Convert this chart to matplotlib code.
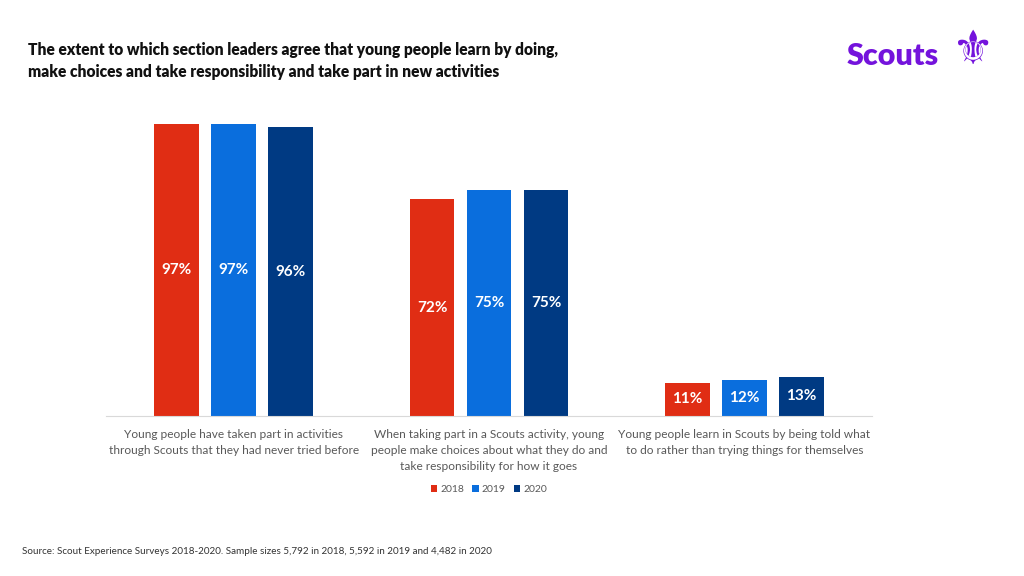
import numpy as np
import matplotlib.pyplot as plt

categories = [
    "Young people have taken part in activities\nthrough Scouts that they had never tried before",
    "When taking part in a Scouts activity, young\npeople make choices about what they do and\ntake responsibility for how it goes",
    "Young people learn in Scouts by being told what\nto do rather than trying things for themselves",
]
years = ["2018", "2019", "2020"]
v2018 = [97, 72, 11]
v2019 = [97, 75, 12]
v2020 = [96, 75, 13]
colors = ["#E02D14", "#0A6EDD", "#003A83"]

plt.rcParams['font.family'] = ['Lato', 'DejaVu Sans']

fig = plt.figure(figsize=(10.24, 5.76), dpi=100)
# axes in pixel coords: left 106, right 872, bottom 416, top 115
ax = fig.add_axes([106 / 1024, 1 - 416 / 576, (872 - 106) / 1024, (416 - 115) / 576])

x = np.arange(len(categories))
w = 0.175
step = 0.223
for i, (vals, col, yr) in enumerate(zip([v2018, v2019, v2020], colors, years)):
    bars = ax.bar(x + (i - 1) * step, vals, w, color=col, label=yr)
    for b, v in zip(bars, vals):
        ax.text(b.get_x() + b.get_width() / 2, v / 2, f"{v}%", ha='center', va='center',
                color='white', fontsize=11, fontweight='bold')

ax.set_xlim(-0.5, 2.5)
ax.set_ylim(0, 100)
ax.set_yticks([])
ax.set_xticks(x)
ax.set_xticklabels(categories, fontsize=8.6, color='#595959', linespacing=1.6)
ax.tick_params(axis='x', length=0, pad=9)
for s in ['top', 'left', 'right']:
    ax.spines[s].set_visible(False)
ax.spines['bottom'].set_color('#D9D9D9')

leg = ax.legend(loc='center', bbox_to_anchor=(0.5, -0.245), ncol=3, frameon=False,
                fontsize=7.5, handlelength=0.6, handleheight=0.6, handletextpad=0.3,
                columnspacing=0.8, labelcolor='#595959')

fig.text(28 / 1024, 1 - 61 / 576,
         "The extent to which section leaders agree that young people learn by doing,\n"
         "make choices and take responsibility and take part in new activities",
         fontsize=11.2, fontweight='heavy', color='#111111', va='center', linespacing=1.45)

fig.text(22 / 1024, 1 - 551 / 576,
         "Source: Scout Experience Surveys 2018-2020. Sample sizes 5,792 in 2018, 5,592 in 2019 and 4,482 in 2020",
         fontsize=7.1, color='#333333', va='center')

# logo
fig.text(893 / 1024, 1 - 56 / 576, "Scouts", fontsize=22, fontweight='heavy', color='#7413DC',
         ha='center', va='center')
fig.text(972 / 1024, 1 - 52 / 576, "\u269c", fontsize=34, color='#7413DC', ha='center', va='center',
         family='DejaVu Sans')

fig.savefig("out.png", dpi=100, facecolor='white')
